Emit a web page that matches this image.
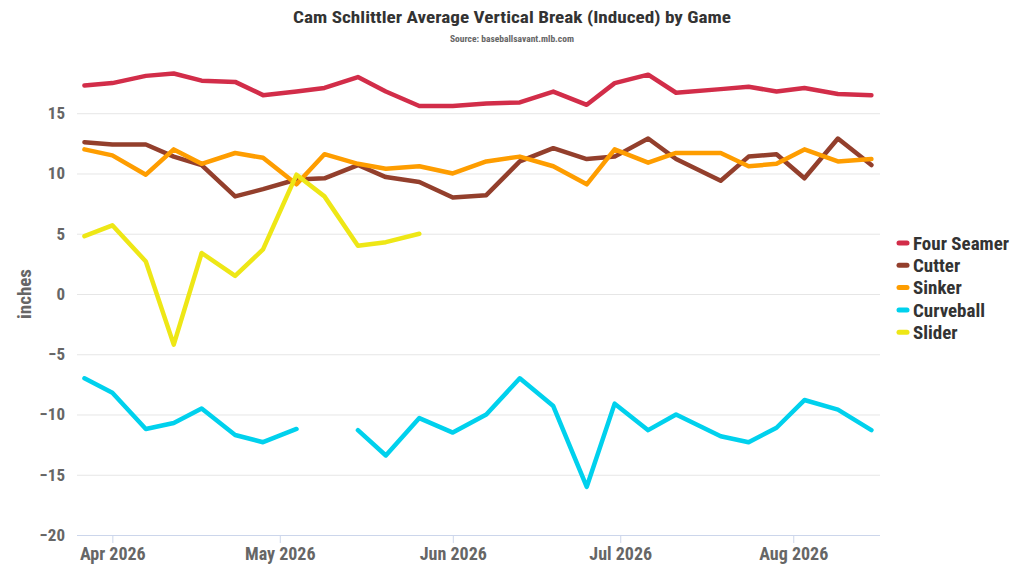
<!DOCTYPE html>
<html>
<head>
<meta charset="utf-8">
<script src="https://cdn.jsdelivr.net/npm/d3@7"></script>
<style>
	body { margin: 0; background: #fff; }
	svg { display: block; font-family: "Roboto Condensed", Roboto, sans-serif; }
</style>
</head>
<body>
<script>
// * DATA
const gameDates = [
	"2026-03-27", "2026-04-01", "2026-04-07", "2026-04-12", "2026-04-17",
	"2026-04-23", "2026-04-28", "2026-05-04", "2026-05-09", "2026-05-15",
	"2026-05-20", "2026-05-26", "2026-06-01", "2026-06-07", "2026-06-13",
	"2026-06-19", "2026-06-25", "2026-06-30", "2026-07-06", "2026-07-11",
	"2026-07-19", "2026-07-24", "2026-07-29", "2026-08-03", "2026-08-09",
	"2026-08-15",
];
const fourSeamer = [
	17.3, 17.5, 18.1, 18.3, 17.7, 17.6, 16.5, 16.8, 17.1, 18.0, 16.8, 15.6,
	15.6, 15.8, 15.9, 16.8, 15.7, 17.5, 18.2, 16.7, 17.0, 17.2, 16.8, 17.1,
	16.6, 16.5,
];
const cutter = [
	12.6, 12.4, 12.4, 11.4, 10.7, 8.1, 8.7, 9.5, 9.6, 10.7, 9.7, 9.3,
	8.0, 8.2, 11.0, 12.1, 11.2, 11.4, 12.9, 11.2, 9.4, 11.4, 11.6, 9.6,
	12.9, 10.7,
];
const sinker = [
	12.0, 11.5, 9.9, 12.0, 10.8, 11.7, 11.3, 9.1, 11.6, 10.8, 10.4, 10.6,
	10.0, 11.0, 11.4, 10.6, 9.1, 12.0, 10.9, 11.7, 11.7, 10.6, 10.8, 12.0,
	11.0, 11.2,
];
const curveball = [
	-7.0, -8.2, -11.2, -10.7, -9.5, -11.7, -12.3, -11.2, null, -11.3, -13.4, -10.3,
	-11.5, -10.0, -7.0, -9.3, -16.0, -9.1, -11.3, -10.0, -11.8, -12.3, -11.1, -8.8,
	-9.6, -11.3,
];
const slider = [
	4.8, 5.7, 2.7, -4.2, 3.4, 1.5, 3.7, 9.9, 8.1, 4.0, 4.3, 5.0,
	null, null, null, null, null, null, null, null, null, null, null, null,
	null, null,
];
const pitchNames = ["Four Seamer", "Cutter", "Sinker", "Curveball", "Slider"];
const pitchColors = ["#d22d49", "#933f2c", "#fe9d00", "#00d1ed", "#eee716"];
const pitchValues = [fourSeamer, cutter, sinker, curveball, slider];
const yTicks = [-20, -15, -10, -5, 0, 5, 10, 15];

// * SETUP
const width = 1024;
const height = 576;
const plot = { left: 77, right: 880, top: 59, bottom: 535 };

const parseDate = d3.timeParse("%Y-%m-%d");
const dates = gameDates.map(parseDate);

const x = d3
	.scaleTime()
	.domain([new Date(2026, 2, 25, 16), new Date(2026, 7, 16, 13)])
	.range([plot.left, plot.right]);

const y = d3
	.scaleLinear()
	.domain([-20, 19.5])
	.range([plot.bottom, plot.top]);

const series = pitchNames.map((name, i) => ({
	name,
	color: pitchColors[i],
	values: dates.map((date, j) => ({ date, value: pitchValues[i][j] })),
}));

const svg = d3
	.select("body")
	.append("svg")
	.attr("width", width)
	.attr("height", height)
	.attr("viewBox", [0, 0, width, height]);

// * TITLE
svg.append("text")
	.attr("x", 512)
	.attr("y", 23)
	.attr("text-anchor", "middle")
	.attr("fill", "#333")
	.attr("font-size", 17)
	.attr("font-weight", "bold")
	.attr("textLength", 438)
	.attr("lengthAdjust", "spacingAndGlyphs")
	.text("Cam Schlittler Average Vertical Break (Induced) by Game");

svg.append("text")
	.attr("x", 512)
	.attr("y", 42)
	.attr("text-anchor", "middle")
	.attr("fill", "#666")
	.attr("font-size", 9)
	.attr("font-weight", "bold")
	.attr("textLength", 124)
	.attr("lengthAdjust", "spacingAndGlyphs")
	.text("Source: baseballsavant.mlb.com");

// * GRID + Y AXIS
svg.append("g")
	.attr("transform", `translate(${plot.left},0)`)
	.call(
		d3
			.axisLeft(y)
			.tickValues(yTicks)
			.tickSize(-(plot.right - plot.left))
			.tickPadding(12)
	)
	.call((g) => g.select(".domain").remove())
	.call((g) =>
		g.selectAll(".tick line").attr("stroke", "#e6e6e6").attr("stroke-width", 1)
	)
	.call((g) =>
		g
			.selectAll(".tick text")
			.attr("fill", "#666")
			.attr("font-size", 17)
			.attr("font-weight", "bold")
			.attr("font-family", "'Roboto Condensed', Roboto, sans-serif")
	);

svg.append("text")
	.attr("transform", `translate(31,${y(0)}) rotate(-90)`)
	.attr("text-anchor", "middle")
	.attr("fill", "#666")
	.attr("font-size", 19)
	.attr("font-weight", "bold")
	.text("inches");

// * X AXIS
svg.append("g")
	.attr("transform", `translate(0,${plot.bottom})`)
	.call(
		d3
			.axisBottom(x)
			.ticks(d3.timeMonth.every(1))
			.tickFormat(d3.timeFormat("%b %Y"))
			.tickSize(8)
			.tickPadding(4)
	)
	.call((g) =>
		g
			.select(".domain")
			.attr("stroke", "#ccd6eb")
			.attr("d", `M${plot.left},0.5H${plot.right}`)
	)
	.call((g) => g.selectAll(".tick line").attr("stroke", "#ccd6eb"))
	.call((g) =>
		g
			.selectAll(".tick text")
			.attr("fill", "#666")
			.attr("font-size", 18)
			.attr("font-weight", "bold")
			.attr("font-family", "'Roboto Condensed', Roboto, sans-serif")
	);

// * LINES
const line = d3
	.line()
	.defined((d) => d.value !== null)
	.x((d) => x(d.date))
	.y((d) => y(d.value));

svg.append("g")
	.selectAll("path")
	.data(series)
	.join("path")
	.attr("fill", "none")
	.attr("stroke", (d) => d.color)
	.attr("stroke-width", 4.5)
	.attr("stroke-linejoin", "round")
	.attr("stroke-linecap", "round")
	.attr("d", (d) => line(d.values));

// * LEGEND
const legend = svg
	.append("g")
	.attr("transform", "translate(897,243)")
	.selectAll("g")
	.data(series)
	.join("g")
	.attr("transform", (d, i) => `translate(0,${i * 22.3})`);

legend
	.append("line")
	.attr("x1", 2)
	.attr("x2", 10)
	.attr("stroke", (d) => d.color)
	.attr("stroke-width", 5)
	.attr("stroke-linecap", "round");

legend
	.append("text")
	.attr("x", 16)
	.attr("dy", "0.35em")
	.attr("fill", "#333")
	.attr("font-size", 19)
	.attr("font-weight", "bold")
	.text((d) => d.name);
</script>
</body>
</html>
